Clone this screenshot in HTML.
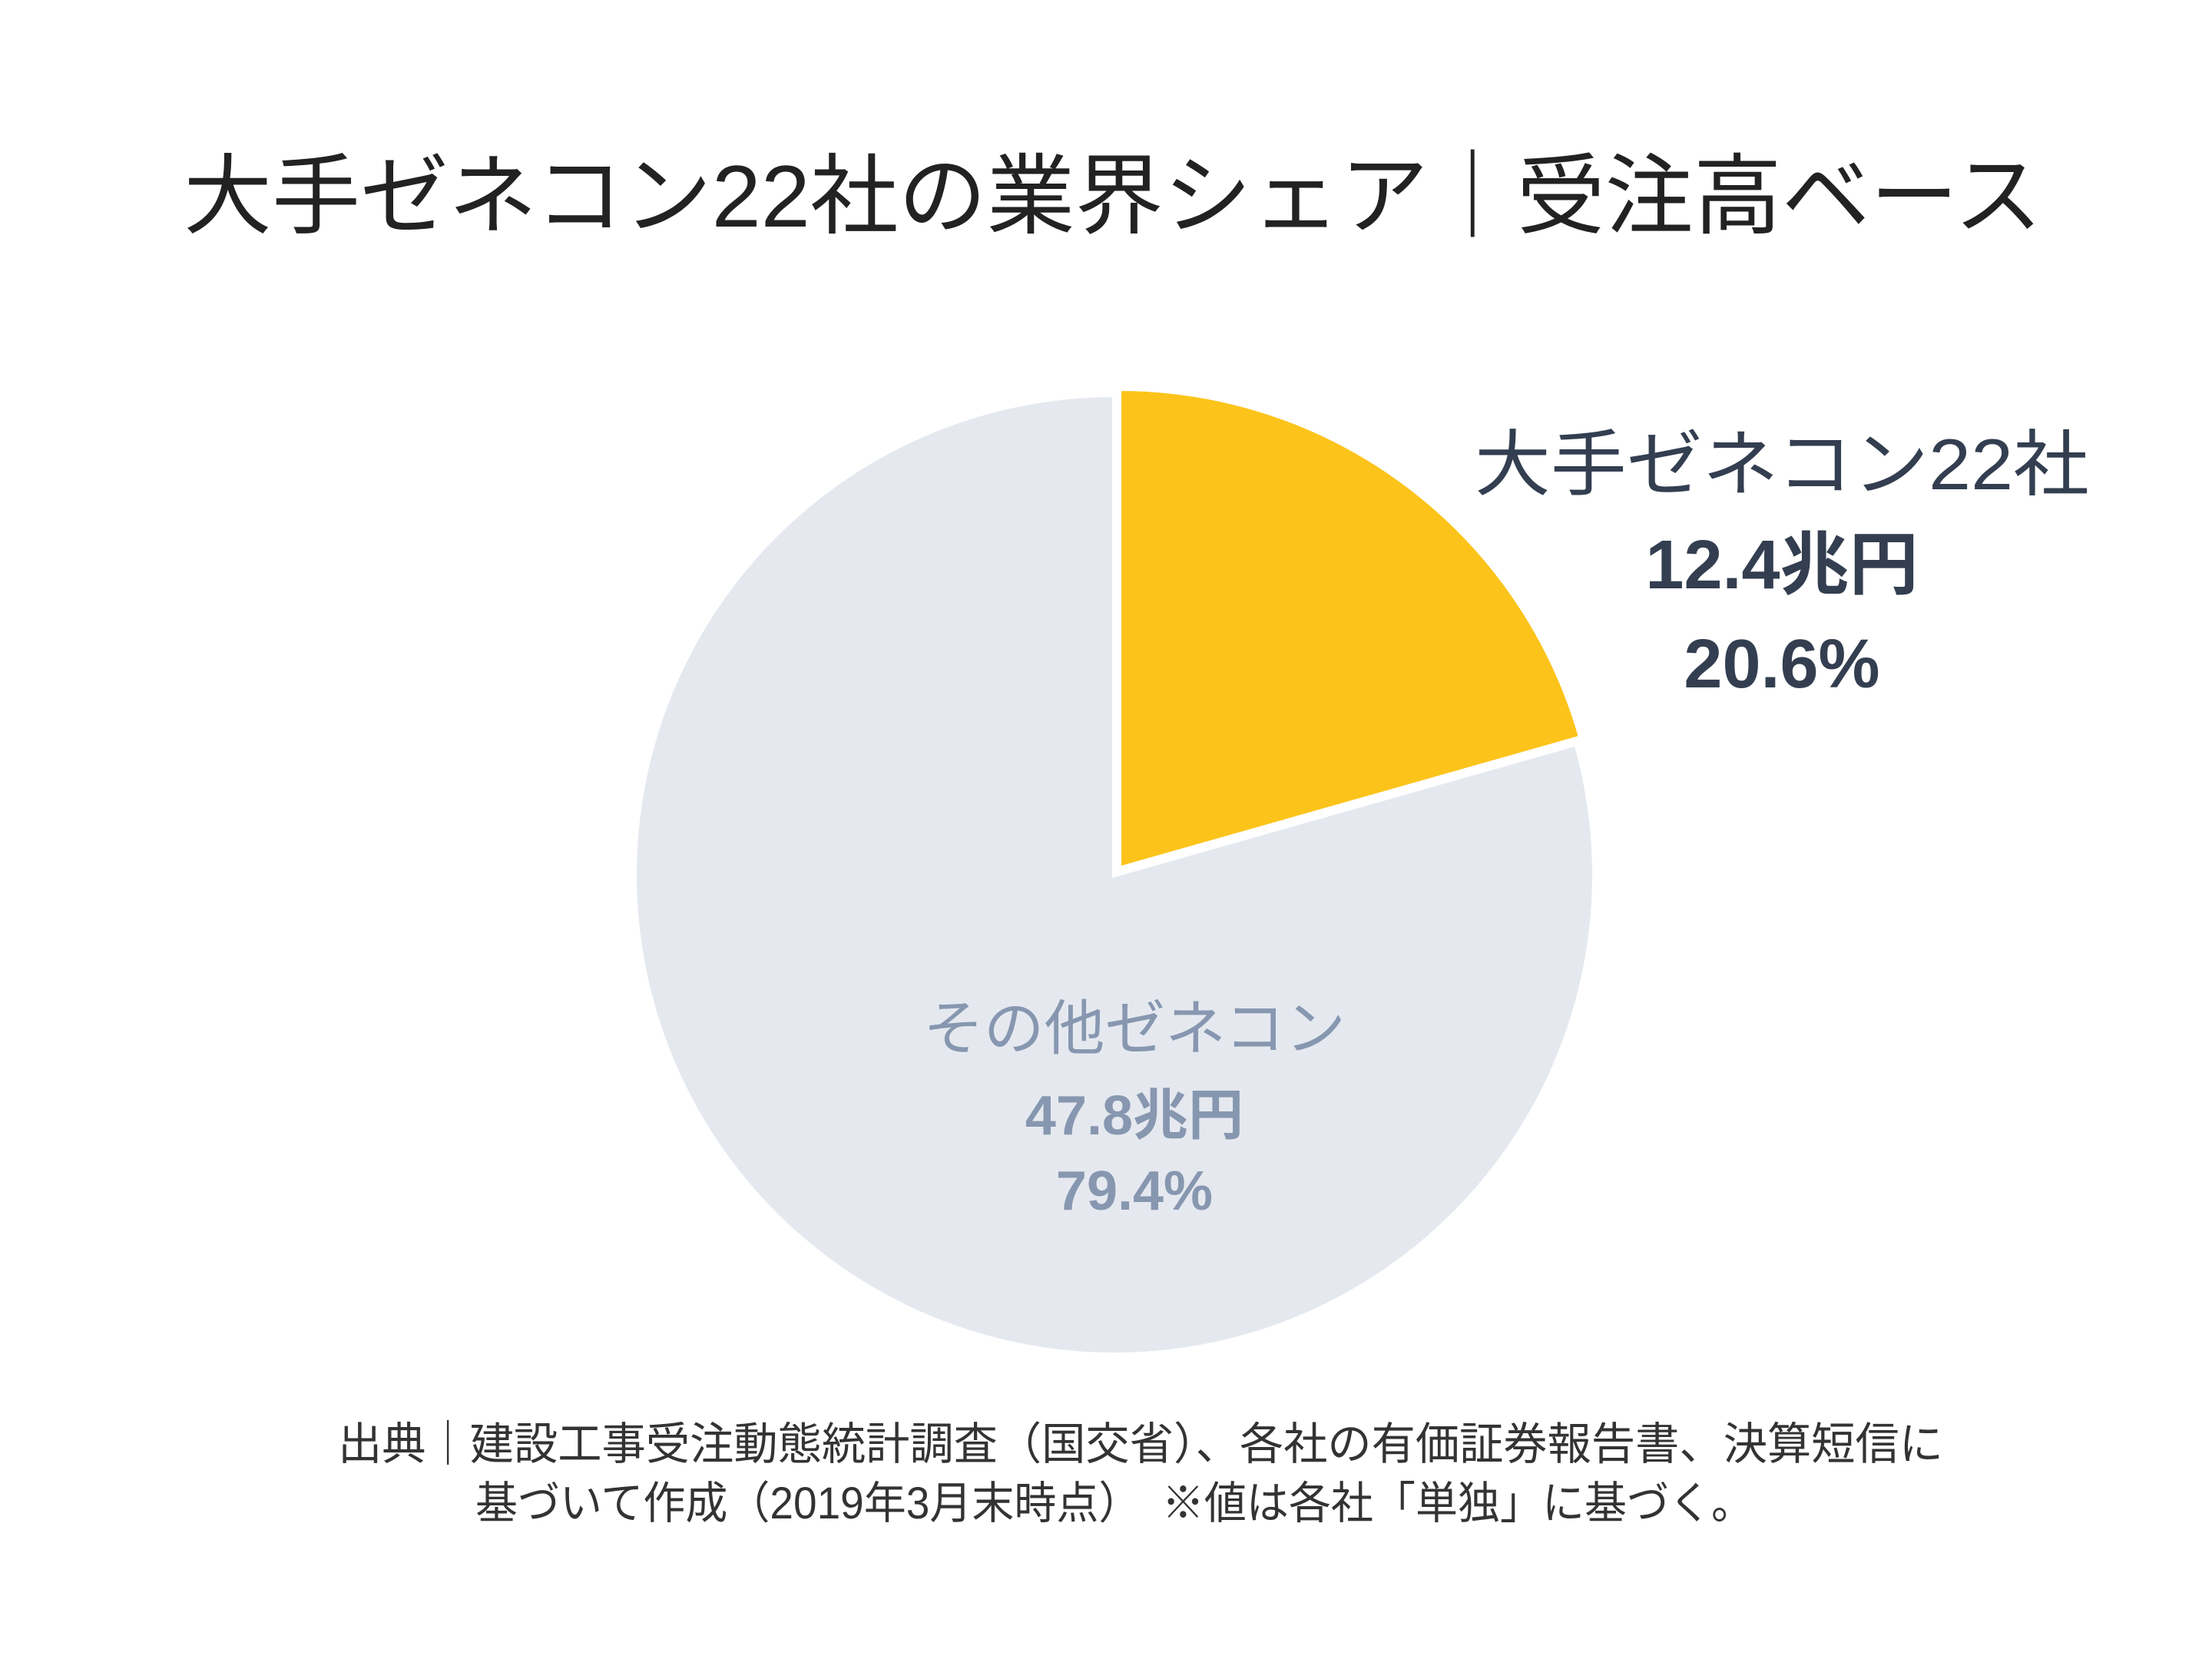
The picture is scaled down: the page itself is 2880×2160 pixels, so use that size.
<!DOCTYPE html>
<html><head><meta charset="utf-8"><style>
html,body{margin:0;padding:0;background:#fff;width:2880px;height:2160px;overflow:hidden}
svg text{font-family:"Liberation Sans","Noto Sans CJK JP",sans-serif}
</style></head><body>
<svg id="chart" width="2880" height="2160" viewBox="0 0 2880 2160" xmlns="http://www.w3.org/2000/svg">
<rect width="2880" height="2160" fill="#fff"/>
<text x="1449" y="295" text-anchor="middle" font-size="114" fill="#222" textLength="2420" lengthAdjust="spacingAndGlyphs">大手ゼネコン22社の業界シェア｜受注高ベース</text>
<g id="slices"></g>
<g id="labels"></g>
<text x="440" y="1900" font-size="58" fill="#333" textLength="2090" lengthAdjust="spacingAndGlyphs">出典｜建設工事受注動態統計調査（国交省）、各社の有価証券報告書、決算短信に</text>
<text x="619" y="1977" font-size="58" fill="#333" textLength="1664" lengthAdjust="spacingAndGlyphs">基づいて作成（2019年3月末時点）　※値は各社「単独」に基づく。</text>
</svg>
<script>
const categories = ["大手ゼネコン22社", "その他ゼネコン"];
const amounts = ["12.4兆円", "47.8兆円"];
const shares = [20.6, 79.4];
const shareLabels = ["20.6%", "79.4%"];

const cx = 1451, cy = 1139, r = 625;
const colors = ["#fcc41a", "#e5e9ef"];
const explode = [10, 0];
const NS = "http://www.w3.org/2000/svg";
const total = shares.reduce((a, b) => a + b, 0);
function angleOf(v) { return v / total * Math.PI * 2; }
function pt(a, rad, ox, oy) { return [ox + rad * Math.sin(a), oy - rad * Math.cos(a)]; }

const g = document.getElementById('slices');
let start = 0;
shares.forEach((v, i) => {
  const end = start + angleOf(v);
  const mid = (start + end) / 2;
  const ox = cx + explode[i] * Math.sin(mid), oy = cy - explode[i] * Math.cos(mid);
  const p0 = pt(start, r, ox, oy), p1 = pt(end, r, ox, oy);
  const large = (end - start) > Math.PI ? 1 : 0;
  const path = document.createElementNS(NS, 'path');
  path.setAttribute('d', `M${ox},${oy} L${p0[0]},${p0[1]} A${r},${r} 0 ${large} 1 ${p1[0]},${p1[1]} Z`);
  path.setAttribute('fill', colors[i]);
  path.setAttribute('stroke', '#fff');
  path.setAttribute('stroke-width', '6');
  
  
  g.appendChild(path);
  start = end;
});

const lg = document.getElementById('labels');
const labelPos = [
  { x: 2320, ys: [637, 766, 895], color: "#333e50", w: [800, null, null] },
  { x: 1477, ys: [1366, 1477, 1575], color: "#8797b0", w: [550, null, null] }
];
categories.forEach((c, i) => {
  const lines = [c, amounts[i], shareLabels[i]];
  lines.forEach((t, j) => {
    const el = document.createElementNS(NS, 'text');
    el.setAttribute('x', labelPos[i].x);
    el.setAttribute('y', labelPos[i].ys[j]);
    el.setAttribute('text-anchor', 'middle');
    el.setAttribute('fill', labelPos[i].color);
    el.setAttribute('font-size', i === 0 ? (j === 0 ? 94 : 90) : (j === 0 ? 78 : 72));
    if (j > 0) el.setAttribute('font-weight', 'bold');
    if (labelPos[i].w[j]) { el.setAttribute('textLength', labelPos[i].w[j]); el.setAttribute('lengthAdjust', 'spacingAndGlyphs'); }
    el.textContent = t;
    
    
    lg.appendChild(el);
  });
});
</script>
</body></html>
